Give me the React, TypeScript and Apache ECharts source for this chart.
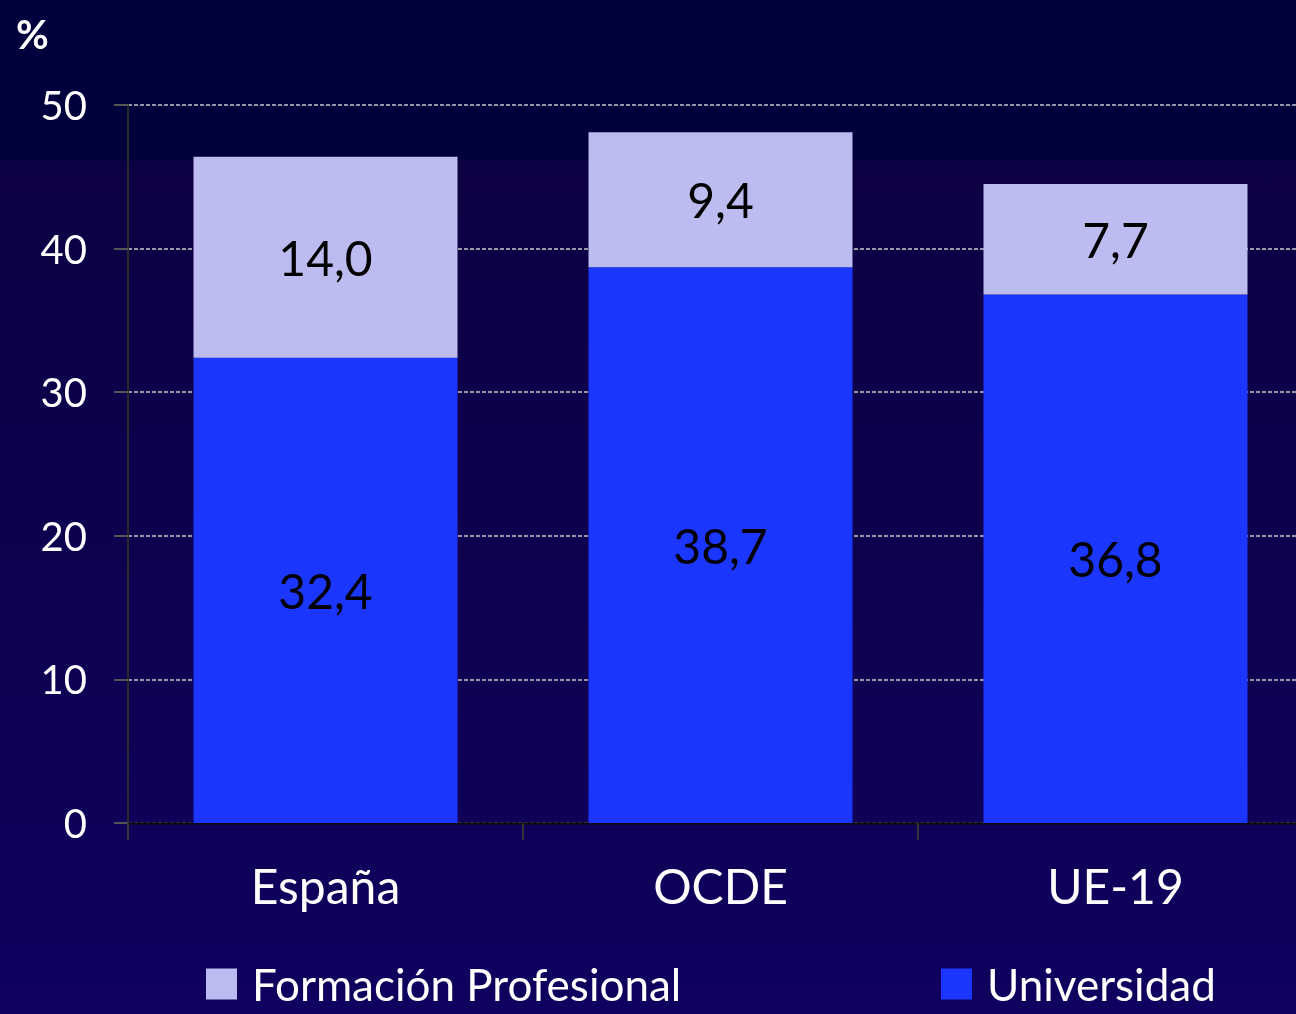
import React, { useEffect, useRef } from "react";
import * as echarts from "echarts";

const categories = ["España", "OCDE", "UE-19"];
const universidad = [32.4, 38.7, 36.8];
const formacionProfesional = [14.0, 9.4, 7.7];
const yTicks = { min: 0, max: 50, interval: 10 };

const fmt = (v: number) => v.toFixed(1).replace(".", ",");

export default function App() {
  const ref = useRef<HTMLDivElement>(null);
  useEffect(() => {
    if (!ref.current) return;
    document.body.style.overflow = "hidden";
    const chart = echarts.init(ref.current, null, { renderer: "svg" });
    const font = "Lato, 'Open Sans', sans-serif";
    chart.setOption({
      animation: false,
      textStyle: { fontFamily: font },
      graphic: [
        {
          type: "rect",
          z: -10,
          silent: true,
          shape: { x: 0, y: 0, width: 1320, height: 160 },
          style: { fill: "#00003c" },
        },
        {
          type: "rect",
          z: -10,
          silent: true,
          shape: { x: 0, y: 160, width: 1320, height: 854 },
          style: {
            fill: new echarts.graphic.LinearGradient(0, 0, 0, 1, [
              { offset: 0, color: "#0d0042" },
              { offset: 1, color: "#10005f" },
            ]),
          },
        },
        {
          type: "text",
          left: 16,
          top: 14,
          style: { text: "%", fill: "#ffffff", fontSize: 40, fontFamily: font, fontWeight: "bold" },
        },
      ],
      grid: { left: 128, right: 7, top: 105, bottom: 191, containLabel: false },
      legend: [
        {
          data: ["Formación Profesional"],
          left: 206,
          top: 962,
          padding: 0,
          icon: "rect",
          itemWidth: 31,
          itemHeight: 31,
          textStyle: { color: "#ffffff", fontSize: 44, lineHeight: 44, fontFamily: font, padding: [0, 0, 0, 10] },
        },
        {
          data: ["Universidad"],
          left: 941,
          top: 962,
          padding: 0,
          icon: "rect",
          itemWidth: 31,
          itemHeight: 31,
          textStyle: { color: "#ffffff", fontSize: 44, lineHeight: 44, fontFamily: font, padding: [0, 0, 0, 10] },
        },
      ],
      xAxis: {
        type: "category",
        data: categories,
        axisLine: { lineStyle: { color: "#0a0a14", width: 2.5 } },
        axisTick: { show: true, length: 17, lineStyle: { color: "#333333", width: 2 } },
        axisLabel: { color: "#ffffff", fontSize: 48, margin: 38, fontFamily: font },
      },
      yAxis: {
        type: "value",
        min: yTicks.min,
        max: yTicks.max,
        interval: yTicks.interval,
        axisLine: { show: true, lineStyle: { color: "#2a2a2a", width: 2 } },
        axisTick: { show: true, length: 14, lineStyle: { color: "#555555", width: 2 } },
        axisLabel: { color: "#ffffff", fontSize: 40, margin: 41, fontFamily: font },
        splitLine: { show: true, lineStyle: { color: "#c8c8c8", width: 1.5, type: [4, 2] } },
      },
      series: [
        {
          name: "Universidad",
          type: "bar",
          stack: "total",
          data: universidad,
          barWidth: 264,
          itemStyle: { color: "#1b36ff" },
          label: {
            show: true,
            position: "inside",
            color: "#000000",
            fontSize: 48,
            fontFamily: font,
            formatter: (p: any) => fmt(p.value),
          },
        },
        {
          name: "Formación Profesional",
          type: "bar",
          stack: "total",
          data: formacionProfesional,
          barWidth: 264,
          itemStyle: { color: "#bcbcf0" },
          label: {
            show: true,
            position: "inside",
            color: "#000000",
            fontSize: 48,
            fontFamily: font,
            formatter: (p: any) => fmt(p.value),
          },
        },
      ],
    });
    return () => chart.dispose();
  }, []);
  return (
    <div
      ref={ref}
      style={{ position: "fixed", left: 0, top: 0, width: 1320, height: 1014 }}
    />
  );
}
